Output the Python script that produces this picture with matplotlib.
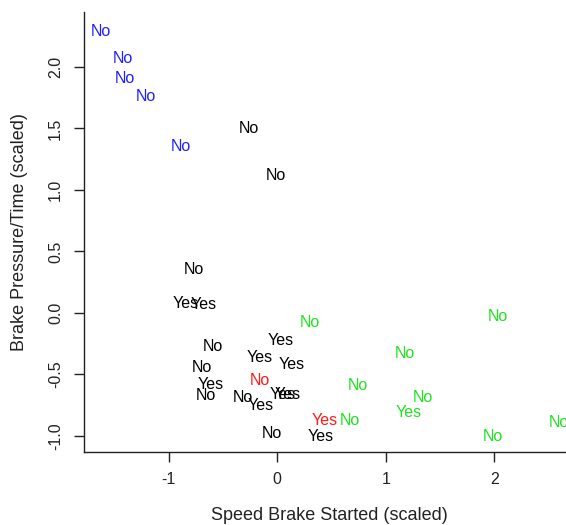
import matplotlib
matplotlib.use("Agg")
import matplotlib.pyplot as plt

plt.rcParams['font.family'] = ['Liberation Sans', 'DejaVu Sans']
plt.rcParams['axes.unicode_minus'] = False

# scaled speed (x), scaled pressure/time (y), outcome label, cluster
speed = [-1.62, -1.42, -1.40, -1.21, -0.89,
         -0.26, -0.015, -0.77, -0.84, -0.68, -0.59, 0.03, -0.16, 0.13,
         -0.69, -0.61, -0.66, -0.32, -0.15, 0.05, 0.10, -0.05, 0.40,
         -0.16, 0.44,
         0.30, 0.67, 0.74, 2.03, 1.18, 1.34, 1.21, 1.99, 2.59]
pressure = [2.29, 2.07, 1.91, 1.76, 1.35,
            1.50, 1.12, 0.35, 0.08, 0.07, -0.27, -0.22, -0.36, -0.42,
            -0.44, -0.58, -0.67, -0.69, -0.75, -0.66, -0.66, -0.98, -1.00,
            -0.55, -0.87,
            -0.08, -0.87, -0.59, -0.03, -0.33, -0.69, -0.81, -1.00, -0.89]
outcome = ['No', 'No', 'No', 'No', 'No',
           'No', 'No', 'No', 'Yes', 'Yes', 'No', 'Yes', 'Yes', 'Yes',
           'No', 'Yes', 'No', 'No', 'Yes', 'Yes', 'Yes', 'No', 'Yes',
           'No', 'Yes',
           'No', 'No', 'No', 'No', 'No', 'No', 'Yes', 'No', 'No']
cluster = [4, 4, 4, 4, 4,
           1, 1, 1, 1, 1, 1, 1, 1, 1,
           1, 1, 1, 1, 1, 1, 1, 1, 1,
           2, 2,
           3, 3, 3, 3, 3, 3, 3, 3, 3]

palette = {1: '#000000', 2: '#ff1a1a', 3: '#22e022', 4: '#2020ff'}

W, H = 566, 525
fig = plt.figure(figsize=(W / 100, H / 100), dpi=100)
ax = fig.add_axes([84 / W, (H - 451.5) / H, (W - 84) / W, (451.5 - 12) / H])

for x, y, lab, c in zip(speed, pressure, outcome, cluster):
    ax.text(x, y, lab, color=palette[c], fontsize=11.5, ha='center', va='center')

ax.set_xlim(-1.78, 2.66)
ax.set_ylim(-1.126, 2.447)
ax.set_xticks([-1, 0, 1, 2])
ax.set_yticks([-1.0, -0.5, 0.0, 0.5, 1.0, 1.5, 2.0])
ax.set_yticklabels(['-1.0', '-0.5', '0.0', '0.5', '1.0', '1.5', '2.0'],
                   rotation=90, va='center')

for side in ['top', 'right']:
    ax.spines[side].set_visible(False)
for side in ['left', 'bottom']:
    ax.spines[side].set_linewidth(1.0)
    ax.spines[side].set_color('#222222')

ax.tick_params(direction='out', length=7, width=1.0, color='#222222',
               labelsize=11.5, pad=8, labelcolor='#222222')

ax.set_xlabel('Speed Brake Started (scaled)', fontsize=13, color='#222222', va='center')
ax.set_ylabel('Brake Pressure/Time (scaled)', fontsize=13, color='#222222', va='center')
ax.xaxis.set_label_coords((329 - 84) / (W - 84), -(515 - 451.5) / (451.5 - 12))
ax.yaxis.set_label_coords(-(84 - 20) / (W - 84), (451.5 - 232) / (451.5 - 12))

fig.savefig('out.png', dpi=100)
